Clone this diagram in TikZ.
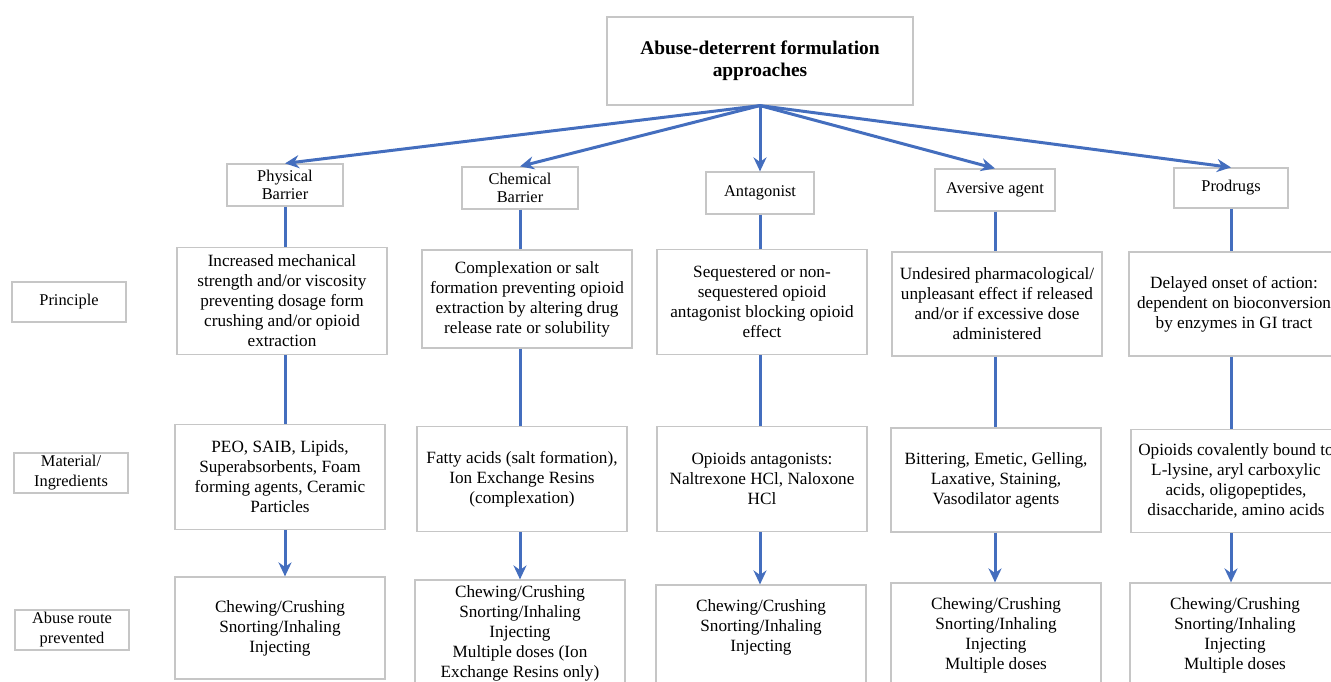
\documentclass[tikz,border=0pt]{standalone}
\usepackage{fontspec}
\setmainfont{Liberation Serif}
\usepackage{tikz}
\usepackage{xcolor}
\usetikzlibrary{positioning,arrows.meta}

\definecolor{flowblue}{RGB}{68,110,190}

\begin{document}
\begin{tikzpicture}[
    x=0.5pt,
    y=-0.5pt,
    >={Stealth[length=7pt,width=6.5pt]},
    line width=1.5pt
]

\tikzstyle{box}=[
    rectangle,
    draw=gray!45,
    line width=0.6pt,
    fill=white,
    inner sep=1pt,
    align=center,
    font=\fontsize{8.6}{10}\selectfont
]
\tikzstyle{tag}=[box, font=\fontsize{8.2}{10}\selectfont, minimum width=57pt, minimum height=20pt]
\tikzstyle{kind}=[box, font=\fontsize{8.2}{9}\selectfont, minimum height=21pt]
\tikzstyle{cell}=[box, minimum width=105pt, minimum height=52.5pt]
\tikzstyle{link}=[draw=flowblue, line width=1.5pt]
\tikzstyle{flow}=[link, ->]

\useasboundingbox (0,0) rectangle (1331,681);
\clip (0,0) rectangle (1331,681);

% root
\node[box, minimum width=153pt, minimum height=44pt, font=\fontsize{9.7}{11}\selectfont\bfseries] (top) at (760,61) {Abuse-deterrent formulation\\approaches};

% approaches
\node[kind, minimum width=58pt] (phys) at (285,185) {Physical\\Barrier};
\node[kind, minimum width=58pt] (chem) at (520,188) {Chemical\\Barrier};
\node[kind, minimum width=54pt] (antag) at (760,193) {Antagonist};
\node[kind, minimum width=60pt] (avers) at (995,190) {Aversive agent};
\node[kind, minimum width=57pt, minimum height=20pt] (prod) at (1231,188) {Prodrugs};

% row labels
\node[tag] (principle) at (69,302) {Principle};
\node[tag] (material) at (71,473) {Material/\\Ingredients};
\node[tag] (route) at (72,630) {Abuse route\\prevented};

% principle
\node[cell, minimum height=53.5pt] (phys1) at (282,301) {Increased mechanical\\strength and/or viscosity\\preventing dosage form\\crushing and/or opioid\\extraction};
\node[cell, minimum height=49pt] (chem1) at (527,299) {Complexation or salt\\formation preventing opioid\\extraction by altering drug\\release rate or solubility};
\node[cell] (antag1) at (762,302) {Sequestered or non-\\sequestered opioid\\antagonist blocking opioid\\effect};
\node[cell, minimum height=52pt] (avers1) at (997,304) {Undesired pharmacological/\\unpleasant effect if released\\and/or if excessive dose\\administered};
\node[cell, minimum height=52pt] (prod1) at (1234,304) {Delayed onset of action:\\dependent on bioconversion\\by enzymes in GI tract};

% material
\node[cell] (phys2) at (280,477) {PEO, SAIB, Lipids,\\Superabsorbents, Foam\\forming agents, Ceramic\\Particles};
\node[cell] (chem2) at (522,479) {Fatty acids (salt formation),\\Ion Exchange Resins\\(complexation)};
\node[cell] (antag2) at (762,479) {Opioids antagonists:\\Naltrexone HCl, Naloxone\\HCl};
\node[cell, minimum height=52pt] (avers2) at (996,480) {Bittering, Emetic, Gelling,\\Laxative, Staining,\\Vasodilator agents};
\node[cell, minimum height=51.5pt] (prod2) at (1236,481) {Opioids covalently bound to\\L-lysine, aryl carboxylic\\acids, oligopeptides,\\disaccharide, amino acids};

% abuse route
\node[cell, minimum height=51pt] (phys3) at (280,628) {Chewing/Crushing\\Snorting/Inhaling\\Injecting};
\node[cell, minimum height=53pt] (chem3) at (520,633) {Chewing/Crushing\\Snorting/Inhaling\\Injecting\\Multiple doses (Ion\\Exchange Resins only)};
\node[cell, minimum height=51pt] (antag3) at (761,636) {Chewing/Crushing\\Snorting/Inhaling\\Injecting\\ \mbox{}};
\node[cell, minimum height=52pt] (avers3) at (996,635) {Chewing/Crushing\\Snorting/Inhaling\\Injecting\\Multiple doses};
\node[cell, minimum height=52pt] (prod3) at (1235,635) {Chewing/Crushing\\Snorting/Inhaling\\Injecting\\Multiple doses};

% root to approaches
\draw[flow] (top.south) -- (phys.north);
\draw[flow] (top.south) -- (chem.north);
\draw[flow] (top.south) -- (antag.north);
\draw[flow] (top.south) -- (avers.north);
\draw[flow] (top.south) -- (prod.north);

% columns
\draw[link] (phys.south) -- (phys.south |- phys1.north);
\draw[link] (phys.south |- phys1.south) -- (phys.south |- phys2.north);
\draw[flow] (phys.south |- phys2.south) -- (phys.south |- phys3.north);

\draw[link] (chem.south) -- (chem.south |- chem1.north);
\draw[link] (chem.south |- chem1.south) -- (chem.south |- chem2.north);
\draw[flow] (chem.south |- chem2.south) -- (chem.south |- chem3.north);

\draw[link] (antag.south) -- (antag.south |- antag1.north);
\draw[link] (antag.south |- antag1.south) -- (antag.south |- antag2.north);
\draw[flow] (antag.south |- antag2.south) -- (antag.south |- antag3.north);

\draw[link] (avers.south) -- (avers.south |- avers1.north);
\draw[link] (avers.south |- avers1.south) -- (avers.south |- avers2.north);
\draw[flow] (avers.south |- avers2.south) -- (avers.south |- avers3.north);

\draw[link] (prod.south) -- (prod.south |- prod1.north);
\draw[link] (prod.south |- prod1.south) -- (prod.south |- prod2.north);
\draw[flow] (prod.south |- prod2.south) -- (prod.south |- prod3.north);

\end{tikzpicture}
\end{document}
